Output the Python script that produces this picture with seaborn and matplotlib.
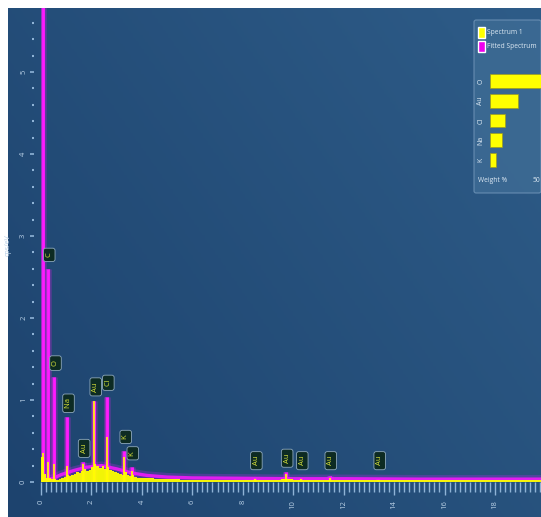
import numpy as np
import pandas as pd
import matplotlib
matplotlib.use("Agg")
import matplotlib.pyplot as plt
import matplotlib.patheffects as pe
from matplotlib.colors import LinearSegmentedColormap
from matplotlib.patches import Rectangle, FancyBboxPatch
from matplotlib.ticker import MultipleLocator
import seaborn as sns

sns.set_style("white")
plt.rcParams["font.family"] = ["Open Sans", "DejaVu Sans"]

# ---- identified lines: energy (keV), fitted height (cps/eV), element ----
peak_energy = [0.08, 0.277, 0.525, 1.041, 1.66, 2.12, 2.62, 3.31, 3.59,
               8.49, 9.71, 10.31, 11.44, 13.38]
peak_height = [6.8, 2.60, 1.28, 0.79, 0.24, 0.99, 1.04, 0.38, 0.18,
               0.05, 0.12, 0.05, 0.07, 0.04]
spec_peak_height = [0.35, 0.25, 0.22, 0.2, 0.22, 0.99, 0.55, 0.3, 0.14,
                    0.04, 0.10, 0.04, 0.05, 0.03]
peak_label = [None, "C", "O", "Na", "Au", "Au", "Cl", "K", "K",
              "Au", "Au", "Au", "Au", "Au"]

# ---- fitted continuum ----
bg_energy = [0.0, 0.45, 0.8, 1.3, 1.8, 2.4, 3.0, 3.6, 4.2, 5.0, 6.0,
             8.0, 10.0, 12.0, 15.0, 19.9]
bg_level = [0.02, 0.04, 0.09, 0.14, 0.18, 0.20, 0.16, 0.11, 0.08, 0.06,
            0.05, 0.045, 0.04, 0.04, 0.035, 0.035]

# ---- measured spectrum (bin start energy, cps/eV) ----
spec_energy = [0.0, 0.1, 0.2, 0.3, 0.4, 0.5, 0.6, 0.7, 0.8, 0.9,
               1.0, 1.1, 1.2, 1.3, 1.4, 1.5, 1.6, 1.7, 1.8, 1.9,
               2.0, 2.1, 2.2, 2.3, 2.4, 2.5, 2.6, 2.7, 2.8, 2.9,
               3.0, 3.1, 3.2, 3.3, 3.4, 3.5, 3.6, 3.7, 3.8, 3.9,
               4.0, 4.5, 5.0, 5.5, 6.0, 7.0, 8.0, 9.0, 9.5, 10.0,
               11.0, 13.0, 15.0, 17.0, 19.9]
spec_level = [0.30, 0.10, 0.05, 0.05, 0.04, 0.04, 0.03, 0.04, 0.05, 0.06,
              0.08, 0.07, 0.09, 0.10, 0.12, 0.11, 0.14, 0.16, 0.13, 0.15,
              0.18, 0.22, 0.20, 0.17, 0.19, 0.16, 0.18, 0.15, 0.14, 0.12,
              0.11, 0.10, 0.09, 0.12, 0.09, 0.07, 0.08, 0.06, 0.05, 0.05,
              0.045, 0.04, 0.035, 0.03, 0.03, 0.03, 0.03, 0.03, 0.04, 0.03,
              0.025, 0.025, 0.02, 0.02, 0.02]

# ---- quantification (weight %) ----
quant_element = ["O", "Au", "Cl", "Na", "K"]
quant_weight = [58.0, 29.0, 15.0, 12.0, 6.0]

YELLOW = "#ffff00"
MAGENTA = "#ff1aff"
TICK = "#8fb3d6"
LABEL = "#b9d0e6"

W, H = 541, 517
fig = plt.figure(figsize=(W / 100, H / 100), dpi=100, facecolor="white")


def fx(px):
    return px / W


def fy(py):
    return 1 - py / H


# gradient panel behind the chart
bg_ax = fig.add_axes([fx(8), 0, 1 - fx(8), 1 - 8 / H])
bg_ax.set_axis_off()
gx, gy = np.meshgrid(np.linspace(0, 1, 200), np.linspace(0, 1, 200))
shade = 0.6 * gx + 0.4 * (1 - gy)
cmap = LinearSegmentedColormap.from_list("panel", ["#1d436e", "#2e5c88"])
bg_ax.imshow(shade, cmap=cmap, aspect="auto", extent=(0, 1, 0, 1), origin="upper")

# main spectrum axes
ax = fig.add_axes([fx(41), fy(482), 1 - fx(41), (482 - 8) / H])
ax.patch.set_alpha(0)
ax.set_xlim(0, 500 / 25.22)
ax.set_ylim(0, 474 / 82)

glow = [pe.Stroke(linewidth=5, foreground=MAGENTA, alpha=0.18),
        pe.Stroke(linewidth=3.2, foreground=MAGENTA, alpha=0.45), pe.Normal()]
band_glow = [pe.Stroke(linewidth=6, foreground="#9a30d8", alpha=0.35),
             pe.Normal()]

cont = pd.DataFrame({"energy": bg_energy, "cps": bg_level})
sns.lineplot(data=cont, x="energy", y="cps", ax=ax, color="#e01ef0", lw=2.4,
             zorder=2, path_effects=band_glow)
ax.vlines(peak_energy, 0, peak_height, color=MAGENTA, lw=2.0, zorder=3,
          path_effects=glow)

ax.fill_between(spec_energy, 0, spec_level, step="post", color=YELLOW,
                lw=0, zorder=4, alpha=0.95)
ax.vlines(peak_energy, 0, spec_peak_height, color=YELLOW, lw=1.2, zorder=4)

for e, h, lab in zip(peak_energy, peak_height, peak_label):
    if lab is None:
        continue
    ax.text(e + 0.05, max(h + 0.17, 0.26), f" {lab} ", rotation=90,
            ha="center", va="center", fontsize=5.5, color="#d8e23a", zorder=6,
            bbox=dict(boxstyle="round,pad=0.3", fc="#0d2b23", ec="#8ea8bc",
                      lw=0.6))

for s in ax.spines.values():
    s.set_visible(False)
ax.spines["left"].set_position(("outward", 5))

ax.xaxis.set_major_locator(MultipleLocator(2))
ax.xaxis.set_minor_locator(MultipleLocator(0.2))
ax.yaxis.set_major_locator(MultipleLocator(1))
ax.yaxis.set_minor_locator(MultipleLocator(0.2))
ax.tick_params(axis="x", which="major", length=9, width=1, color=TICK,
               labelsize=5.5, labelcolor=LABEL, labelrotation=90, pad=4,
               bottom=True)
ax.tick_params(axis="x", which="minor", length=7, width=1, color=TICK,
               bottom=True)
ax.tick_params(axis="y", which="major", length=3, width=1.2, color=TICK,
               labelsize=5.5, labelcolor=LABEL, labelrotation=90, pad=2,
               left=True)
ax.tick_params(axis="y", which="minor", length=1.5, width=1.5, color=TICK,
               left=True)
for t in ax.get_yticklabels():
    t.set_va("center")
ax.set_xlabel("")
ax.set_ylabel("cps/eV", fontsize=5, color=LABEL, labelpad=6)

# ---- legend / quantification panel ----
panel = FancyBboxPatch((fx(474), fy(193)), fx(541) - fx(474), fy(20) - fy(193),
                       boxstyle="round,pad=0,rounding_size=0.004",
                       transform=fig.transFigure, fc="#3d6b94", ec="#6f94b8",
                       lw=0.8, alpha=0.85, zorder=5)
fig.patches.append(panel)
fig.patches.append(Rectangle((fx(478), fy(38)), fx(7), 11 / H,
                             transform=fig.transFigure, fc=YELLOW, zorder=6))
fig.patches.append(Rectangle((fx(478), fy(52)), fx(7), 11 / H,
                             transform=fig.transFigure, fc="#ee00ee", zorder=6))
fig.text(fx(487), fy(33), "Spectrum 1", fontsize=4.8, color="#dce8f3",
         va="center", ha="left", zorder=7)
fig.text(fx(487), fy(47), "Fitted Spectrum", fontsize=4.8, color="#dce8f3",
         va="center", ha="left", zorder=7)

wax = fig.add_axes([fx(490), fy(170), 1 - fx(490), (170 - 71) / H], zorder=8)
wax.patch.set_alpha(0)
quant = pd.DataFrame({"element": quant_element, "weight": quant_weight})
sns.barplot(data=quant, x="weight", y="element", orient="h", color=YELLOW,
            saturation=1, width=0.7, ax=wax, edgecolor="#9a9a20", lw=0.5)
wax.set_xlim(0, 52)
wax.set_xlabel("")
wax.set_ylabel("")
wax.set_xticks([])
for s in wax.spines.values():
    s.set_visible(False)
wax.tick_params(axis="y", length=0, pad=4, labelsize=5, labelcolor="#dce8f3",
                labelrotation=90)
for t in wax.get_yticklabels():
    t.set_va("center")
fig.text(fx(478), fy(181), "Weight %", fontsize=4.8, color="#dce8f3",
         va="center", ha="left", zorder=9)
fig.text(fx(540), fy(181), "50", fontsize=4.8, color="#dce8f3",
         va="center", ha="right", zorder=9)

fig.savefig("out.png", dpi=100, facecolor="white")
